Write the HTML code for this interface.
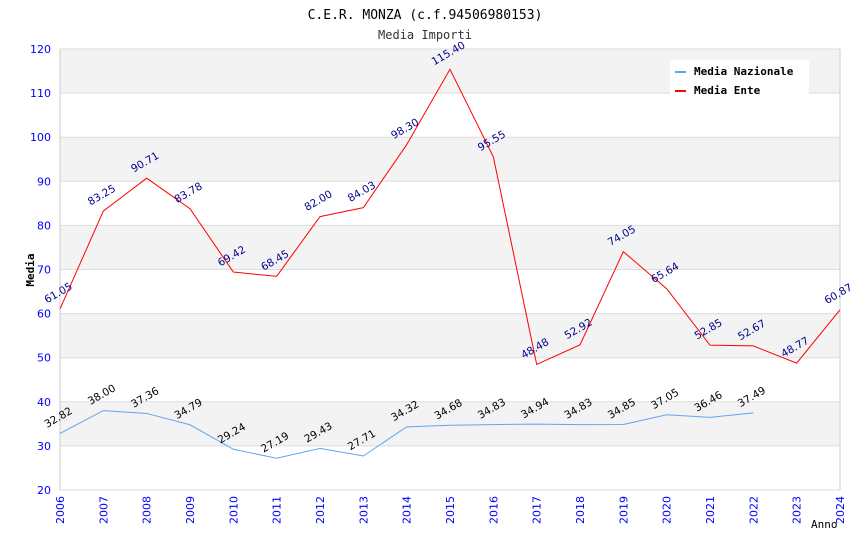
<!DOCTYPE html>
<html><head><meta charset="utf-8"><style>
body{margin:0;background:#fff;width:850px;height:550px;overflow:hidden}
svg text{font-family:"DejaVu Sans",sans-serif}
</style></head><body>
<svg id="chart" width="850" height="550" xmlns="http://www.w3.org/2000/svg">
<text x="425" y="19" text-anchor="middle" font-size="13" style="font-family:'DejaVu Sans Mono',monospace">C.E.R. MONZA (c.f.94506980153)</text>
<text x="425" y="39" text-anchor="middle" font-size="12" fill="#333" style="font-family:'DejaVu Sans Mono',monospace">Media Importi</text>
<g id="bands"></g><g id="grid"></g><g id="axes"></g><g id="series"></g><g id="labels"></g>
<g>
<rect x="670" y="60" width="139" height="36" fill="#fff"/>
<rect x="675" y="71" width="11" height="2" fill="#5ea6f0"/>
<text x="694" y="75" font-size="11" font-weight="bold" style="font-family:'DejaVu Sans Mono',monospace">Media Nazionale</text>
<rect x="675" y="90" width="11" height="2" fill="#f00"/>
<text x="694" y="94" font-size="11" font-weight="bold" style="font-family:'DejaVu Sans Mono',monospace">Media Ente</text>
</g>
<text transform="translate(34,270) rotate(-90)" text-anchor="middle" font-size="11" font-weight="bold" style="font-family:'DejaVu Sans Mono',monospace">Media</text>
<text x="811" y="528" font-size="11" style="font-family:'DejaVu Sans Mono',monospace">Anno</text>
</svg>
<script>
const years=[2006,2007,2008,2009,2010,2011,2012,2013,2014,2015,2016,2017,2018,2019,2020,2021,2022,2023,2024];
const nazionale=[32.82,38.00,37.36,34.79,29.24,27.19,29.43,27.71,34.32,34.68,34.83,34.94,34.83,34.85,37.05,36.46,37.49];
const ente=[61.05,83.25,90.71,83.78,69.42,68.45,82.00,84.03,98.30,115.40,95.55,48.48,52.92,74.05,65.64,52.85,52.67,48.77,60.87];
const yTicks=[20,30,40,50,60,70,80,90,100,110,120];
const NS="http://www.w3.org/2000/svg";
const X0=60,X1=840,Y0=490,Y1=49,ymin=20,ymax=120;
const xs=i=>X0+(X1-X0)*i/(years.length-1);
const ys=v=>Y0-(v-ymin)/(ymax-ymin)*(Y0-Y1);
function mk(tag,attrs,parent){const e=document.createElementNS(NS,tag);for(const k in attrs)e.setAttribute(k,attrs[k]);document.getElementById(parent).appendChild(e);return e;}
for(let i=0;i<yTicks.length-1;i++){
 const b=mk('rect',{x:X0,y:ys(yTicks[i+1]),width:X1-X0,height:ys(yTicks[i])-ys(yTicks[i+1]),fill:(i%2===1)?'#f3f3f3':'#fff'},'bands');
 
 
}
yTicks.forEach(t=>{
 const l=mk('line',{x1:X0,x2:X1,y1:ys(t),y2:ys(t),stroke:'#ddd'},'grid');
 
 
 const tx=mk('text',{x:X0-9,y:ys(t)+4,'text-anchor':'end','font-size':'11',fill:'#0000ff'},'axes');
 tx.textContent=t;
 
 
});
mk('line',{x1:X0,x2:X0,y1:Y1,y2:Y0,stroke:'#ccc'},'axes');
mk('line',{x1:X1,x2:X1,y1:Y1,y2:Y0,stroke:'#ccc'},'axes');
years.forEach((y,i)=>{
 const tx=mk('text',{transform:`translate(${xs(i)+4},${Y0+6}) rotate(-90)`,'text-anchor':'end','font-size':'11',fill:'#0000ff'},'axes');
 tx.textContent=y;
 
 
});
function series(vals,color,lblColor,name){
 const p=mk('polyline',{points:vals.map((v,i)=>xs(i)+','+ys(v)).join(' '),fill:'none',stroke:color,'stroke-width':'1'},'series');
 
 
 vals.forEach((v,i)=>{
  const x=xs(i),y=ys(v)-13;
  const t=mk('text',{transform:`translate(${x},${y}) rotate(-30)`,'text-anchor':'middle','font-size':'10.5',fill:lblColor},'labels');
  t.textContent=v.toFixed(2);
  
  
 });
}
series(nazionale,'#5ea6f0','#000','nazionale');
series(ente,'#f00','#00008b','ente');
</script>
</body></html>
